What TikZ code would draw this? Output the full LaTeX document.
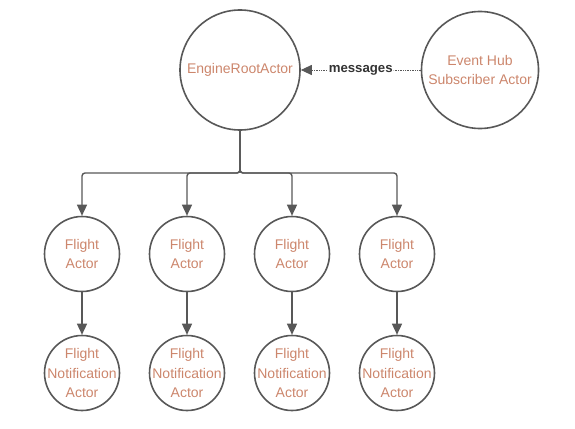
\documentclass[tikz,border=0pt]{standalone}
\usepackage{fontspec}
\setmainfont{Liberation Sans}
\usepackage{tikz}
\usetikzlibrary{positioning, arrows.meta}
\definecolor{linegray}{RGB}{88,88,88}
\definecolor{actortext}{RGB}{204,134,108}
\tikzset{
    actor/.style     = {draw=linegray, line width=1.6pt, circle, align=center,
                        inner sep=-10pt, text=actortext, font=\fontsize{14}{19.5}\selectfont},
    bigactor/.style  = {actor, minimum size=120pt},
    smallactor/.style= {actor, minimum size=75pt},
    link/.style      = {-{Triangle[length=11pt, width=10pt]}, draw=linegray,
                        line width=1.4pt, rounded corners=3pt},
    msg/.style       = {link, densely dotted, line width=1pt},
    beschr/.style    = {font=\bfseries\fontsize{13.2}{15}\selectfont, text=black!80,
                        inner sep=1pt, fill=white}
}
\begin{document}
\begin{tikzpicture}[x=1pt, y=-1pt]
        \useasboundingbox (0,0) rectangle (575,428);

        \node[bigactor] (root) at (240,70) {EngineRootActor};
        \node[bigactor, minimum size=117pt] (hub) at (480,70) {Event Hub\\Subscriber Actor};

        \node[smallactor] (f1) at (82,254)  {Flight\\Actor};
        \node[smallactor] (f2) at (187,254) {Flight\\Actor};
        \node[smallactor] (f3) at (292,254) {Flight\\Actor};
        \node[smallactor] (f4) at (397,254) {Flight\\Actor};

        \node[smallactor] (n1) at (82,373)  {Flight\\Notification\\Actor};
        \node[smallactor] (n2) at (187,373) {Flight\\Notification\\Actor};
        \node[smallactor] (n3) at (292,373) {Flight\\Notification\\Actor};
        \node[smallactor] (n4) at (397,373) {Flight\\Notification\\Actor};

        \coordinate (bus) at (240,173);

        \draw[msg] (hub.west) -- node[beschr] {messages} (root.east);

        \foreach \i in {1,...,4} {
            \draw[link] (root.south) -- (bus) -| (f\i.north);
            \draw[link] (f\i.south) -- (n\i.north);
        }
    \end{tikzpicture}
\end{document}
